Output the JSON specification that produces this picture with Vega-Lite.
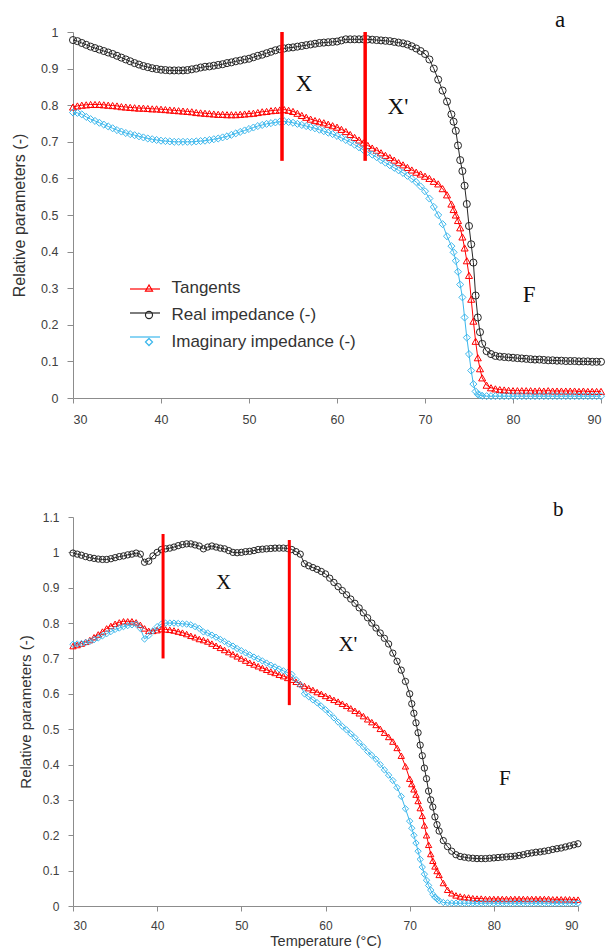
{
"$schema": "https://vega.github.io/schema/vega-lite/v6.json",
"background": "white",
"padding": {"left": 11, "top": 8, "right": 6, "bottom": 0},
"spacing": 72,
"config": {
 "view": {"stroke": null},
 "axis": {"grid": false, "domainColor": "#8c8c8c", "tickColor": "#8c8c8c", "labelColor": "#404040", "labelFont": "Liberation Sans", "titleFont": "Liberation Sans", "titleFontWeight": "normal", "titleColor": "#333333"},
 "legend": {"padding": 0, "labelFont": "Liberation Sans", "labelFontSize": 17, "labelColor": "#333333", "labelLimit": 400}
},
"datasets": {
 "a": [
{"t":30,"T":0.795,"R":0.978,"I":0.780},{"t":30.5,"T":0.798,"R":0.975,"I":0.779},{"t":31,"T":0.800,"R":0.970,"I":0.775},{"t":31.5,"T":0.801,"R":0.965,"I":0.768},
{"t":32,"T":0.802,"R":0.960,"I":0.762},{"t":32.5,"T":0.802,"R":0.956,"I":0.757},{"t":33,"T":0.802,"R":0.952,"I":0.752},{"t":33.5,"T":0.801,"R":0.948,"I":0.747},
{"t":34,"T":0.800,"R":0.944,"I":0.742},{"t":34.5,"T":0.799,"R":0.940,"I":0.737},{"t":35,"T":0.798,"R":0.935,"I":0.732},{"t":35.5,"T":0.796,"R":0.930,"I":0.728},
{"t":36,"T":0.795,"R":0.925,"I":0.724},{"t":36.5,"T":0.794,"R":0.920,"I":0.721},{"t":37,"T":0.793,"R":0.915,"I":0.718},{"t":37.5,"T":0.792,"R":0.911,"I":0.715},
{"t":38,"T":0.792,"R":0.907,"I":0.712},{"t":38.5,"T":0.791,"R":0.904,"I":0.709},{"t":39,"T":0.790,"R":0.901,"I":0.707},{"t":39.5,"T":0.790,"R":0.899,"I":0.705},
{"t":40,"T":0.789,"R":0.897,"I":0.703},{"t":40.5,"T":0.788,"R":0.896,"I":0.702},{"t":41,"T":0.787,"R":0.895,"I":0.701},{"t":41.5,"T":0.786,"R":0.895,"I":0.700},
{"t":42,"T":0.785,"R":0.895,"I":0.700},{"t":42.5,"T":0.784,"R":0.895,"I":0.700},{"t":43,"T":0.783,"R":0.896,"I":0.700},{"t":43.5,"T":0.782,"R":0.898,"I":0.700},
{"t":44,"T":0.780,"R":0.900,"I":0.701},{"t":44.5,"T":0.779,"R":0.903,"I":0.702},{"t":45,"T":0.778,"R":0.905,"I":0.703},{"t":45.5,"T":0.777,"R":0.906,"I":0.705},
{"t":46,"T":0.776,"R":0.908,"I":0.707},{"t":46.5,"T":0.775,"R":0.910,"I":0.709},{"t":47,"T":0.775,"R":0.912,"I":0.712},{"t":47.5,"T":0.774,"R":0.915,"I":0.715},
{"t":48,"T":0.774,"R":0.917,"I":0.719},{"t":48.5,"T":0.774,"R":0.920,"I":0.723},{"t":49,"T":0.775,"R":0.922,"I":0.727},{"t":49.5,"T":0.776,"R":0.925,"I":0.731},
{"t":50,"T":0.777,"R":0.927,"I":0.735},{"t":50.5,"T":0.778,"R":0.931,"I":0.739},{"t":51,"T":0.780,"R":0.935,"I":0.743},{"t":51.5,"T":0.782,"R":0.938,"I":0.746},
{"t":52,"T":0.783,"R":0.942,"I":0.749},{"t":52.5,"T":0.785,"R":0.946,"I":0.751},{"t":53,"T":0.786,"R":0.950,"I":0.753},{"t":53.5,"T":0.787,"R":0.953,"I":0.755},
{"t":54,"T":0.788,"R":0.955,"I":0.756},{"t":54.5,"T":0.786,"R":0.957,"I":0.754},{"t":55,"T":0.783,"R":0.958,"I":0.752},{"t":55.5,"T":0.778,"R":0.960,"I":0.749},
{"t":56,"T":0.772,"R":0.962,"I":0.746},{"t":56.5,"T":0.767,"R":0.964,"I":0.743},{"t":57,"T":0.762,"R":0.966,"I":0.740},{"t":57.5,"T":0.758,"R":0.968,"I":0.737},
{"t":58,"T":0.755,"R":0.970,"I":0.733},{"t":58.5,"T":0.752,"R":0.971,"I":0.729},{"t":59,"T":0.748,"R":0.972,"I":0.725},{"t":59.5,"T":0.744,"R":0.973,"I":0.721},
{"t":60,"T":0.740,"R":0.974,"I":0.716},{"t":60.5,"T":0.734,"R":0.977,"I":0.711},{"t":61,"T":0.728,"R":0.980,"I":0.705},{"t":61.5,"T":0.720,"R":0.980,"I":0.699},
{"t":62,"T":0.712,"R":0.980,"I":0.692},{"t":62.5,"T":0.705,"R":0.980,"I":0.685},{"t":63,"T":0.697,"R":0.980,"I":0.678},{"t":63.5,"T":0.690,"R":0.980,"I":0.672},
{"t":64,"T":0.683,"R":0.979,"I":0.665},{"t":64.5,"T":0.677,"R":0.978,"I":0.658},{"t":65,"T":0.670,"R":0.977,"I":0.650},{"t":65.5,"T":0.663,"R":0.976,"I":0.643},
{"t":66,"T":0.657,"R":0.975,"I":0.636},{"t":66.5,"T":0.650,"R":0.973,"I":0.629},{"t":67,"T":0.643,"R":0.971,"I":0.622},{"t":67.5,"T":0.637,"R":0.969,"I":0.615},
{"t":68,"T":0.630,"R":0.966,"I":0.607},{"t":68.5,"T":0.623,"R":0.961,"I":0.599},{"t":69,"T":0.617,"R":0.955,"I":0.590},{"t":69.5,"T":0.612,"R":0.948,"I":0.578},
{"t":70,"T":0.606,"R":0.940,"I":0.565},{"t":70.5,"T":0.600,"R":0.925,"I":0.545},{"t":71,"T":0.592,"R":0.900,"I":0.522},{"t":71.5,"T":0.585,"R":0.870,"I":0.500},
{"t":72,"T":0.572,"R":0.840,"I":0.475},{"t":72.5,"T":0.555,"R":0.810,"I":0.442},{"t":73,"T":0.530,"R":0.775,"I":0.415},{"t":73.25,"T":0.515,"R":0.755,"I":0.398},
{"t":73.5,"T":0.500,"R":0.730,"I":0.375},{"t":73.75,"T":0.485,"R":0.690,"I":0.345},{"t":74,"T":0.465,"R":0.650,"I":0.310},{"t":74.25,"T":0.440,"R":0.620,"I":0.275},
{"t":74.5,"T":0.410,"R":0.580,"I":0.220},{"t":74.75,"T":0.375,"R":0.530,"I":0.165},{"t":75,"T":0.335,"R":0.470,"I":0.120},{"t":75.25,"T":0.270,"R":0.420,"I":0.075},
{"t":75.5,"T":0.210,"R":0.370,"I":0.038},{"t":75.75,"T":0.155,"R":0.280,"I":0.018},{"t":76,"T":0.110,"R":0.220,"I":0.010},{"t":76.25,"T":0.080,"R":0.180,"I":0.008},
{"t":76.5,"T":0.055,"R":0.148,"I":0.006},{"t":77,"T":0.035,"R":0.128,"I":0.005},{"t":77.5,"T":0.028,"R":0.120,"I":0.005},{"t":78,"T":0.025,"R":0.115,"I":0.005},
{"t":78.5,"T":0.023,"R":0.113,"I":0.005},{"t":79,"T":0.022,"R":0.112,"I":0.005},{"t":79.5,"T":0.021,"R":0.111,"I":0.005},{"t":80,"T":0.020,"R":0.110,"I":0.005},
{"t":80.5,"T":0.020,"R":0.109,"I":0.005},{"t":81,"T":0.020,"R":0.108,"I":0.005},{"t":81.5,"T":0.020,"R":0.107,"I":0.005},{"t":82,"T":0.020,"R":0.106,"I":0.005},
{"t":82.5,"T":0.019,"R":0.105,"I":0.005},{"t":83,"T":0.020,"R":0.105,"I":0.005},{"t":83.5,"T":0.019,"R":0.104,"I":0.005},{"t":84,"T":0.020,"R":0.103,"I":0.005},
{"t":84.5,"T":0.019,"R":0.103,"I":0.005},{"t":85,"T":0.019,"R":0.102,"I":0.005},{"t":85.5,"T":0.019,"R":0.102,"I":0.005},{"t":86,"T":0.019,"R":0.101,"I":0.005},
{"t":86.5,"T":0.019,"R":0.101,"I":0.005},{"t":87,"T":0.019,"R":0.101,"I":0.005},{"t":87.5,"T":0.018,"R":0.100,"I":0.005},{"t":88,"T":0.019,"R":0.100,"I":0.005},
{"t":88.5,"T":0.018,"R":0.100,"I":0.005},{"t":89,"T":0.018,"R":0.099,"I":0.005},{"t":89.5,"T":0.018,"R":0.099,"I":0.005},{"t":90,"T":0.018,"R":0.099,"I":0.005}
 ],
 "b": [
{"t":30,"T":0.735,"R":0.998,"I":0.740},{"t":30.5,"T":0.738,"R":0.995,"I":0.741},{"t":31,"T":0.742,"R":0.992,"I":0.742},{"t":31.5,"T":0.747,"R":0.988,"I":0.745},
{"t":32,"T":0.752,"R":0.985,"I":0.748},{"t":32.5,"T":0.760,"R":0.983,"I":0.753},{"t":33,"T":0.768,"R":0.981,"I":0.758},{"t":33.5,"T":0.776,"R":0.980,"I":0.764},
{"t":34,"T":0.785,"R":0.980,"I":0.770},{"t":34.5,"T":0.792,"R":0.982,"I":0.776},{"t":35,"T":0.798,"R":0.985,"I":0.782},{"t":35.5,"T":0.802,"R":0.988,"I":0.786},
{"t":36,"T":0.805,"R":0.990,"I":0.790},{"t":36.5,"T":0.805,"R":0.993,"I":0.793},{"t":37,"T":0.805,"R":0.995,"I":0.795},{"t":37.5,"T":0.802,"R":0.998,"I":0.797},
{"t":38,"T":0.795,"R":0.995,"I":0.785},{"t":38.5,"T":0.785,"R":0.972,"I":0.755},{"t":39,"T":0.778,"R":0.975,"I":0.765},{"t":39.5,"T":0.778,"R":0.990,"I":0.778},
{"t":40,"T":0.780,"R":1.000,"I":0.790},{"t":40.5,"T":0.783,"R":1.008,"I":0.797},{"t":41,"T":0.782,"R":1.010,"I":0.800},{"t":41.5,"T":0.781,"R":1.012,"I":0.800},
{"t":42,"T":0.779,"R":1.015,"I":0.800},{"t":42.5,"T":0.776,"R":1.019,"I":0.799},{"t":43,"T":0.773,"R":1.022,"I":0.798},{"t":43.5,"T":0.769,"R":1.024,"I":0.797},
{"t":44,"T":0.764,"R":1.024,"I":0.795},{"t":44.5,"T":0.760,"R":1.021,"I":0.790},{"t":45,"T":0.755,"R":1.018,"I":0.785},{"t":45.5,"T":0.752,"R":1.010,"I":0.775},
{"t":46,"T":0.748,"R":1.015,"I":0.772},{"t":46.5,"T":0.742,"R":1.018,"I":0.766},{"t":47,"T":0.736,"R":1.015,"I":0.760},{"t":47.5,"T":0.730,"R":1.012,"I":0.754},
{"t":48,"T":0.724,"R":1.010,"I":0.748},{"t":48.5,"T":0.718,"R":1.005,"I":0.741},{"t":49,"T":0.712,"R":1.000,"I":0.735},{"t":49.5,"T":0.706,"R":0.999,"I":0.728},
{"t":50,"T":0.700,"R":1.000,"I":0.722},{"t":50.5,"T":0.694,"R":1.002,"I":0.716},{"t":51,"T":0.688,"R":1.003,"I":0.710},{"t":51.5,"T":0.683,"R":1.005,"I":0.704},
{"t":52,"T":0.678,"R":1.008,"I":0.699},{"t":52.5,"T":0.673,"R":1.009,"I":0.693},{"t":53,"T":0.668,"R":1.010,"I":0.687},{"t":53.5,"T":0.663,"R":1.011,"I":0.681},
{"t":54,"T":0.659,"R":1.012,"I":0.676},{"t":54.5,"T":0.654,"R":1.012,"I":0.670},{"t":55,"T":0.650,"R":1.012,"I":0.665},{"t":55.5,"T":0.645,"R":1.011,"I":0.660},
{"t":56,"T":0.640,"R":1.008,"I":0.655},{"t":56.5,"T":0.634,"R":1.002,"I":0.640},{"t":57,"T":0.628,"R":0.995,"I":0.625},{"t":57.5,"T":0.622,"R":0.968,"I":0.600},
{"t":58,"T":0.616,"R":0.962,"I":0.592},{"t":58.5,"T":0.611,"R":0.957,"I":0.583},{"t":59,"T":0.605,"R":0.952,"I":0.575},{"t":59.5,"T":0.600,"R":0.946,"I":0.565},
{"t":60,"T":0.594,"R":0.939,"I":0.555},{"t":60.5,"T":0.589,"R":0.927,"I":0.544},{"t":61,"T":0.583,"R":0.915,"I":0.532},{"t":61.5,"T":0.578,"R":0.903,"I":0.520},
{"t":62,"T":0.572,"R":0.892,"I":0.508},{"t":62.5,"T":0.566,"R":0.880,"I":0.498},{"t":63,"T":0.559,"R":0.868,"I":0.487},{"t":63.5,"T":0.552,"R":0.856,"I":0.476},
{"t":64,"T":0.545,"R":0.843,"I":0.462},{"t":64.5,"T":0.537,"R":0.829,"I":0.450},{"t":65,"T":0.528,"R":0.815,"I":0.437},{"t":65.5,"T":0.520,"R":0.800,"I":0.426},
{"t":66,"T":0.512,"R":0.786,"I":0.415},{"t":66.5,"T":0.501,"R":0.772,"I":0.400},{"t":67,"T":0.490,"R":0.757,"I":0.385},{"t":67.5,"T":0.478,"R":0.741,"I":0.370},
{"t":68,"T":0.465,"R":0.715,"I":0.355},{"t":68.5,"T":0.447,"R":0.692,"I":0.335},{"t":69,"T":0.425,"R":0.667,"I":0.310},{"t":69.5,"T":0.395,"R":0.635,"I":0.275},
{"t":70,"T":0.360,"R":0.600,"I":0.240},{"t":70.25,"T":0.345,"R":0.572,"I":0.220},{"t":70.5,"T":0.330,"R":0.545,"I":0.200},{"t":70.75,"T":0.315,"R":0.518,"I":0.178},
{"t":71,"T":0.297,"R":0.490,"I":0.155},{"t":71.25,"T":0.277,"R":0.455,"I":0.132},{"t":71.5,"T":0.255,"R":0.425,"I":0.110},{"t":71.75,"T":0.228,"R":0.390,"I":0.090},
{"t":72,"T":0.200,"R":0.360,"I":0.073},{"t":72.25,"T":0.173,"R":0.325,"I":0.058},{"t":72.5,"T":0.147,"R":0.300,"I":0.045},{"t":72.75,"T":0.128,"R":0.280,"I":0.033},
{"t":73,"T":0.112,"R":0.252,"I":0.025},{"t":73.25,"T":0.099,"R":0.230,"I":0.020},{"t":73.5,"T":0.088,"R":0.212,"I":0.015},{"t":74,"T":0.065,"R":0.185,"I":0.010},
{"t":74.5,"T":0.046,"R":0.168,"I":0.009},{"t":75,"T":0.036,"R":0.155,"I":0.008},{"t":75.5,"T":0.030,"R":0.145,"I":0.008},{"t":76,"T":0.027,"R":0.140,"I":0.008},
{"t":76.5,"T":0.025,"R":0.138,"I":0.008},{"t":77,"T":0.024,"R":0.136,"I":0.008},{"t":77.5,"T":0.022,"R":0.135,"I":0.008},{"t":78,"T":0.021,"R":0.134,"I":0.008},
{"t":78.5,"T":0.021,"R":0.134,"I":0.008},{"t":79,"T":0.020,"R":0.134,"I":0.008},{"t":79.5,"T":0.020,"R":0.135,"I":0.008},{"t":80,"T":0.020,"R":0.136,"I":0.008},
{"t":80.5,"T":0.020,"R":0.137,"I":0.008},{"t":81,"T":0.020,"R":0.138,"I":0.008},{"t":81.5,"T":0.020,"R":0.139,"I":0.008},{"t":82,"T":0.020,"R":0.140,"I":0.008},
{"t":82.5,"T":0.020,"R":0.141,"I":0.008},{"t":83,"T":0.020,"R":0.143,"I":0.008},{"t":83.5,"T":0.020,"R":0.145,"I":0.008},{"t":84,"T":0.020,"R":0.148,"I":0.008},
{"t":84.5,"T":0.020,"R":0.150,"I":0.008},{"t":85,"T":0.020,"R":0.152,"I":0.008},{"t":85.5,"T":0.020,"R":0.153,"I":0.008},{"t":86,"T":0.020,"R":0.155,"I":0.008},
{"t":86.5,"T":0.020,"R":0.157,"I":0.008},{"t":87,"T":0.019,"R":0.160,"I":0.008},{"t":87.5,"T":0.019,"R":0.162,"I":0.008},{"t":88,"T":0.019,"R":0.164,"I":0.008},
{"t":88.5,"T":0.019,"R":0.167,"I":0.008},{"t":89,"T":0.019,"R":0.170,"I":0.008},{"t":89.5,"T":0.018,"R":0.173,"I":0.008},{"t":90,"T":0.018,"R":0.176,"I":0.008}
 ],
 "ra": [{"t":53.75,"v":0.648,"v2":1.0},{"t":63.2,"v":0.648,"v2":1.0}],
 "rb": [{"t":40.7,"v":0.70,"v2":1.052},{"t":55.7,"v":0.568,"v2":1.035}],
 "ta": [{"t":56.25,"v":0.839,"label":"X"},{"t":66.93,"v":0.776,"label":"X'"},{"t":81.82,"v":0.262,"label":"F"},{"t":85.34,"v":1.014,"label":"a"}],
 "tb": [{"t":47.9,"v":0.896,"label":"X"},{"t":62.66,"v":0.721,"label":"X'"},{"t":81.3,"v":0.342,"label":"F"},{"t":87.66,"v":1.103,"label":"b"}]
},
"vconcat": [
 {
  "width": 528, "height": 366,
  "encoding": {
   "x": {"field": "t", "type": "quantitative", "scale": {"domain": [30, 90], "nice": false, "zero": false},
         "axis": {"title": null, "values": [30,40,50,60,70,80,90], "tickSize": 5, "labelPadding": 10, "labelFontSize": 12.5}},
   "y": {"field": "v", "type": "quantitative", "scale": {"domain": [0, 1], "nice": false},
         "axis": {"title": "Relative parameters (-)", "values": [0,0.1,0.2,0.3,0.4,0.5,0.6,0.7,0.8,0.9,1], "format": ".2~f", "tickSize": 6, "labelPadding": 9, "labelFontSize": 12.5, "titleFontSize": 16, "titlePadding": 13}}
  },
  "layer": [
   {"data": {"name": "a"}, "transform": [{"fold": ["T","R","I"], "as": ["s","v"]}],
    "mark": {"type": "line", "strokeWidth": 1},
    "encoding": {"stroke": {"field": "s", "type": "nominal",
      "scale": {"domain": ["T","R","I","z"], "range": ["#ff0000","#262626","#3cb7ec","#ffffff"]},
      "legend": {"values": ["T","R","I"], "title": null, "orient": "none", "legendX": 56, "legendY": 241, "symbolType": "stroke", "symbolSize": 900, "symbolStrokeWidth": 1.2, "labelExpr": "''", "rowPadding": -4, "labelOffset": 0}}}},
   {"data": {"name": "a"}, "transform": [{"fold": ["T","R","I"], "as": ["s","v"]}],
    "mark": {"type": "point", "filled": false, "size": 50, "strokeWidth": 1, "opacity": 1},
    "encoding": {
     "color": {"field": "s", "type": "nominal", "scale": {"domain": ["T","R","I"], "range": ["#ff0000","#262626","#3cb7ec"]},
       "legend": {"title": null, "orient": "none", "legendX": 67.5, "legendY": 247.5, "symbolSize": 50, "symbolStrokeWidth": 1.2, "rowPadding": 9, "labelOffset": 14,
                  "labelExpr": "datum.value == 'T' ? 'Tangents' : datum.value == 'R' ? 'Real impedance (-)' : 'Imaginary impedance (-)'"}},
     "shape": {"field": "s", "type": "nominal", "scale": {"domain": ["T","R","I"], "range": ["triangle-up","circle","diamond"]},
       "legend": {"title": null, "orient": "none", "legendX": 67.5, "legendY": 247.5, "symbolSize": 50, "symbolStrokeWidth": 1.2, "rowPadding": 9, "labelOffset": 14,
                  "labelExpr": "datum.value == 'T' ? 'Tangents' : datum.value == 'R' ? 'Real impedance (-)' : 'Imaginary impedance (-)'"}},
     "order": {"field": "s", "sort": "descending"}
    }},
   {"data": {"name": "ra"}, "mark": {"type": "rule", "color": "#ff0000", "strokeWidth": 3.5}, "encoding": {"y2": {"field": "v2"}}},
   {"data": {"name": "ta"}, "mark": {"type": "text", "font": "Liberation Serif", "fontSize": 23, "baseline": "alphabetic", "align": "center", "color": "#111111"}, "encoding": {"text": {"field": "label"}}}
  ]
 },
 {
  "width": 505, "height": 389,
  "encoding": {
   "x": {"field": "t", "type": "quantitative", "scale": {"domain": [30, 90], "nice": false, "zero": false},
         "axis": {"title": "Temperature (°C)", "values": [30,40,50,60,70,80,90], "tickSize": 5, "labelPadding": 9, "labelFontSize": 12, "titleFontSize": 14.5, "titlePadding": 3}},
   "y": {"field": "v", "type": "quantitative", "scale": {"domain": [0, 1.1], "nice": false},
         "axis": {"title": "Relative parameters (-)", "values": [0,0.1,0.2,0.3,0.4,0.5,0.6,0.7,0.8,0.9,1,1.1], "format": ".2~f", "tickSize": 5, "labelPadding": 9, "labelFontSize": 12, "titleFontSize": 15, "titlePadding": 9}}
  },
  "layer": [
   {"data": {"name": "b"}, "transform": [{"fold": ["T","R","I"], "as": ["s","v"]}],
    "mark": {"type": "line", "strokeWidth": 1},
    "encoding": {"stroke": {"field": "s", "type": "nominal",
      "scale": {"domain": ["T","R","I","z"], "range": ["#ff0000","#262626","#3cb7ec","#ffffff"]}, "legend": null}}},
   {"data": {"name": "b"}, "transform": [{"fold": ["T","R","I"], "as": ["s","v"]}],
    "mark": {"type": "point", "filled": false, "size": 40, "strokeWidth": 1, "opacity": 1},
    "encoding": {
     "color": {"field": "s", "type": "nominal", "scale": {"domain": ["T","R","I"], "range": ["#ff0000","#262626","#3cb7ec"]}, "legend": null},
     "shape": {"field": "s", "type": "nominal", "scale": {"domain": ["T","R","I"], "range": ["triangle-up","circle","diamond"]}, "legend": null},
     "order": {"field": "s", "sort": "descending"}
    }},
   {"data": {"name": "rb"}, "mark": {"type": "rule", "color": "#ff0000", "strokeWidth": 3}, "encoding": {"y2": {"field": "v2"}}},
   {"data": {"name": "tb"}, "mark": {"type": "text", "font": "Liberation Serif", "fontSize": 21, "baseline": "alphabetic", "align": "center", "color": "#111111"}, "encoding": {"text": {"field": "label"}}}
  ]
 }
],
"resolve": {"scale": {"x": "independent", "y": "independent", "color": "independent", "shape": "independent", "stroke": "independent"},
            "legend": {"color": "independent", "shape": "independent", "stroke": "independent"}}
}
